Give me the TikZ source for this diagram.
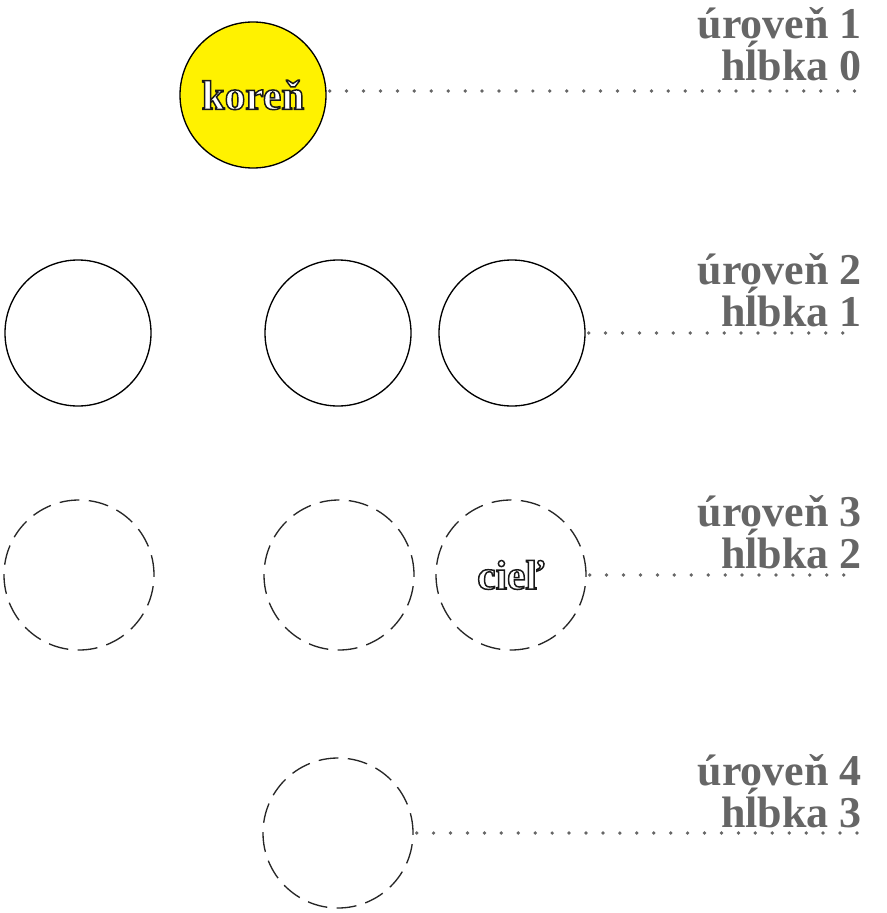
\documentclass[tikz,border=0pt]{standalone}
\usepackage{fontspec}
\setmainfont{Liberation Serif}
\usetikzlibrary{positioning, calc}
\definecolor{levelgray}{HTML}{666666}
% white letters with a dark outline
\newcommand{\outlined}[1]{\textcolor{white}{\special{pdf:literal 2 Tr 1.1 w 0.1 G}#1\special{pdf:literal 0 Tr}}}

\begin{document}
\begin{tikzpicture}[
    x=0.75pt, y=-0.75pt,
    state/.style={circle, draw, line width=1pt, minimum size=109.5pt,
                  inner sep=0pt, font=\fontsize{31}{31}\selectfont\bfseries},
    rootstate/.style={state, fill=yellow},
    hidden/.style={circle, draw=black!85, line width=1pt, minimum size=112.5pt,
                   inner sep=0pt, dash pattern=on 15pt off 7pt,
                   font=\fontsize{31}{31}\selectfont\bfseries},
    levelline/.style={levelgray, line width=2.8pt, line cap=round,
                      dash pattern=on 0pt off 12.7pt},
    levellabel/.style={anchor=east, align=right, text=levelgray,
                       inner sep=0pt,
                       font=\fontsize{33}{31.5}\selectfont\bfseries}
  ]
  \useasboundingbox (0,0) rectangle (886,913);

  % level 1
  \node[rootstate] (root) at (253, 95)  {\outlined{koreň}};

  % level 2
  \node[state]     (a1)   at (78, 333)  {};
  \node[state]     (a2)   at (338, 333) {};
  \node[state]     (a3)   at (512, 333) {};

  % level 3
  \node[hidden]    (b1)   at (79, 575)  {};
  \node[hidden]    (b2)   at (339, 575) {};
  \node[hidden]    (b3)   at (511, 575) {\outlined{cieľ}};

  % level 4
  \node[hidden]    (c1)   at (338, 833) {};

  % labels on the right
  \node[levellabel] (lab1) at (862, 44)  {úroveň 1\\hĺbka 0};
  \node[levellabel] (lab2) at (862, 290) {úroveň 2\\hĺbka 1};
  \node[levellabel] (lab3) at (862, 532) {úroveň 3\\hĺbka 2};
  \node[levellabel] (lab4) at (862, 791) {úroveň 4\\hĺbka 3};

  \coordinate (e1) at (855, 91);
  \coordinate (e2) at (855, 333);
  \coordinate (e3) at (855, 575);
  \coordinate (e4) at (865, 833);

  % dotted level guides
  \draw[levelline] ($(root.east)+(3,-4)$) -- (e1);
  \draw[levelline] ($(a3.east)+(3,0)$)    -- (e2);
  \draw[levelline] ($(b3.east)+(3,0)$)    -- (e3);
  \draw[levelline] ($(c1.east)+(3,0)$)    -- (e4);

\end{tikzpicture}
\end{document}
